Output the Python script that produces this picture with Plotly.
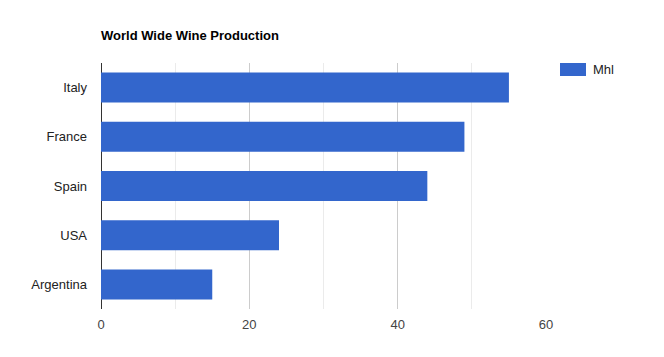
import plotly.graph_objects as go

countries = ["Italy", "France", "Spain", "USA", "Argentina"]
mhl = [55, 49, 44, 24, 15]
series_name = "Mhl"
title_text = "World Wide Wine Production"
bar_color = "#3366cc"

# page body has an 8px margin
W, H = 656, 349
L, R, T, B = 93, 118, 55, 48
pw, ph = W - L - R, H - T - B

fig = go.Figure()
fig.add_trace(go.Bar(
    x=mhl, y=countries, orientation="h", name=series_name,
    marker=dict(color=bar_color, line=dict(width=0)),
    showlegend=False,
))

# legend drawn as swatch + label
sx0 = 459 / pw
fig.add_shape(type="rect", xref="paper", yref="paper",
              x0=(552 - L) / pw, x1=(578 - L) / pw,
              y0=1 - 13 / ph, y1=1.0,
              fillcolor=bar_color, line=dict(width=0))
fig.add_annotation(xref="paper", yref="paper", x=(583 - L) / pw, y=1 - 6.5 / ph,
                   xanchor="left", yanchor="middle", text=series_name, showarrow=False,
                   font=dict(size=13, color="#222222"))

fig.update_layout(
    width=W, height=H,
    margin=dict(l=L, r=R, t=T, b=B, pad=0),
    paper_bgcolor="white", plot_bgcolor="white",
    font=dict(family="Arial, Liberation Sans, sans-serif", size=13, color="#222222"),
    bargap=0.39,
    title=dict(text="<b>" + title_text + "</b>", x=0, xref="paper", xanchor="left",
               y=1 - 27 / H, yref="container", yanchor="middle",
               font=dict(size=13, color="#000000")),
    xaxis=dict(range=[0, 60], dtick=20, tick0=0, showgrid=True, gridcolor="#cccccc", gridwidth=1,
               minor=dict(dtick=10, showgrid=True, gridcolor="#ebebeb", gridwidth=1, ticks=""),
               zeroline=True, zerolinecolor="#333333", zerolinewidth=1,
               showline=False, ticks="", ticklabelstandoff=6,
               tickfont=dict(color="#444444", size=13), fixedrange=True),
    yaxis=dict(autorange="reversed", showgrid=False, zeroline=False, showline=False,
               ticks="", ticklabelstandoff=13, tickfont=dict(color="#222222", size=13)),
)

fig.write_html("out.html")
